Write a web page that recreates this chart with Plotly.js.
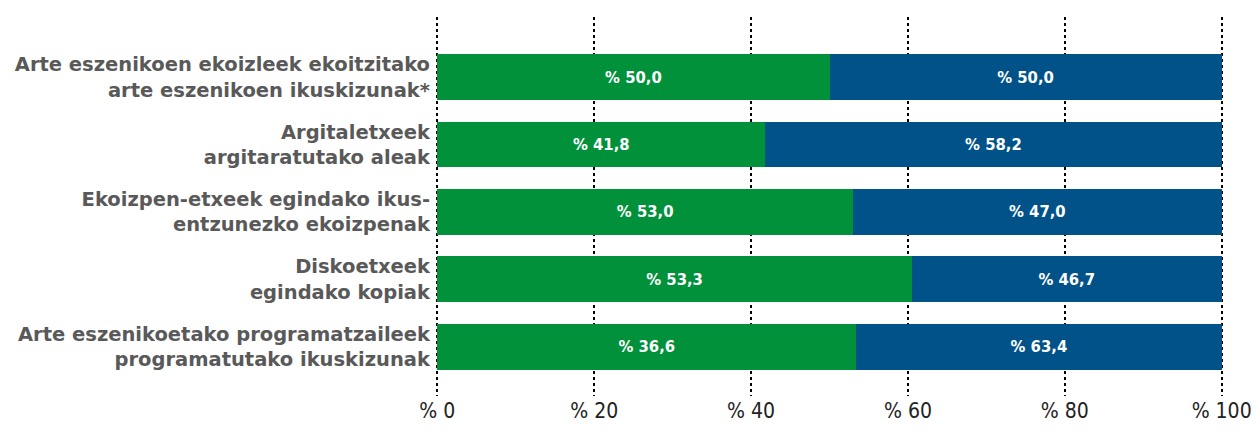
<!DOCTYPE html>
<html>
<head>
<meta charset="utf-8">
<script src="https://cdn.plot.ly/plotly-3.0.1.min.js"></script>
<style>html,body{margin:0;padding:0;background:#fff;}#chart{width:1259px;height:438px;}</style>
</head>
<body>
<div id="chart"></div>
<script>
const categories = [
  "Arte eszenikoen ekoizleek ekoitzitako<br>arte eszenikoen ikuskizunak*",
  "Argitaletxeek<br>argitaratutako aleak",
  "Ekoizpen-etxeek egindako ikus-<br>entzunezko ekoizpenak",
  "Diskoetxeek<br>egindako kopiak",
  "Arte eszenikoetako programatzaileek<br>programatutako ikuskizunak"
];
// bar lengths as drawn in the picture
const greenLengths = [50.0, 41.8, 53.0, 60.5, 53.4];
const blueLengths = [50.0, 58.2, 47.0, 39.5, 46.6];
// value labels as printed on the bars
const greenLabels = ["% 50,0", "% 41,8", "% 53,0", "% 53,3", "% 36,6"];
const blueLabels = ["% 50,0", "% 58,2", "% 47,0", "% 46,7", "% 63,4"];
const tickVals = [0, 20, 40, 60, 80, 100];
const tickText = ["% 0", "% 20", "% 40", "% 60", "% 80", "% 100"];

const barFont = {family: "'DejaVu Sans Condensed', 'Liberation Sans Narrow', 'Liberation Sans', Arial, sans-serif", size: 16.5, color: "#ffffff", weight: "bold"};

const traces = [
  {type: "bar", orientation: "h", y: categories, x: greenLengths, text: greenLabels,
   marker: {color: "#00913a"}, width: 0.68, textposition: "inside", insidetextanchor: "middle",
   textangle: 0, constraintext: "none", textfont: barFont, hoverinfo: "none"},
  {type: "bar", orientation: "h", y: categories, x: blueLengths, text: blueLabels,
   marker: {color: "#005289"}, width: 0.68, textposition: "inside", insidetextanchor: "middle",
   textangle: 0, constraintext: "none", textfont: barFont, hoverinfo: "none"}
];

const layout = {
  width: 1259, height: 438,
  margin: {l: 435, r: 35, t: 17, b: 42},
  barmode: "stack",
  showlegend: false,
  paper_bgcolor: "#ffffff",
  plot_bgcolor: "#ffffff",
  xaxis: {
    range: [-0.3, 100.3], tickvals: tickVals, ticktext: tickText,
    showgrid: true, gridcolor: "#000000", gridwidth: 2, griddash: "dot",
    zeroline: false, showline: false, ticks: "",
    tickfont: {family: "'DejaVu Sans Condensed', 'Liberation Sans Narrow', 'Liberation Sans', Arial, sans-serif", size: 21, color: "#222222"},
    fixedrange: true
  },
  yaxis: {
    type: "category", range: [4.73, -0.89],
    showgrid: false, zeroline: false, showline: false, ticks: "",
    ticklabelstandoff: 4,
    tickfont: {family: "'DejaVu Sans', 'Liberation Sans', Arial, sans-serif", size: 19.5, color: "#595959", weight: "bold"},
    fixedrange: true
  }
};

Plotly.newPlot("chart", traces, layout, {displayModeBar: false, staticPlot: true});
</script>
</body>
</html>
